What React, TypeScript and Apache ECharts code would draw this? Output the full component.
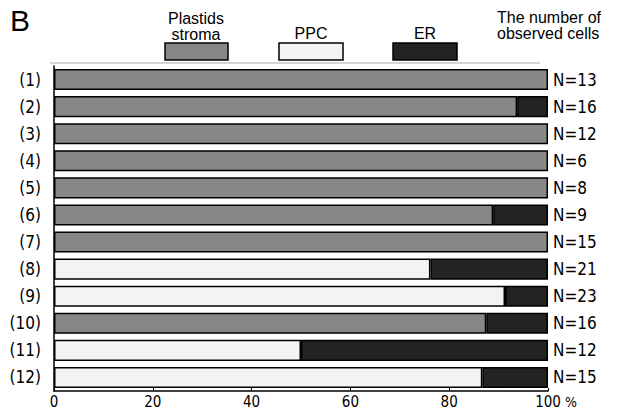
import React, { useEffect, useRef } from "react";
import * as echarts from "echarts";

const categories = ["(1)", "(2)", "(3)", "(4)", "(5)", "(6)", "(7)", "(8)", "(9)", "(10)", "(11)", "(12)"];
const cellCounts = ["N=13", "N=16", "N=12", "N=6", "N=8", "N=9", "N=15", "N=21", "N=23", "N=16", "N=12", "N=15"];
const plastidsStroma = [100, 93.75, 100, 100, 100, 88.9, 100, 0, 0, 87.5, 0, 0];
const ppc = [0, 0, 0, 0, 0, 0, 0, 76.2, 91.3, 0, 50, 86.7];
const er = [0, 6.25, 0, 0, 0, 11.1, 0, 23.8, 8.7, 12.5, 50, 13.3];
const xTicks = [0, 20, 40, 60, 80, 100];

const NARROW = '"Liberation Sans Narrow", "DejaVu Sans Condensed", "Liberation Sans", Arial, sans-serif';
const SANS = '"Liberation Sans", Arial, sans-serif';

const C_PLASTID = "#878787";
const C_PPC = "#f3f3f3";
const C_ER = "#232323";

export default function App() {
  const ref = useRef<HTMLDivElement>(null);
  useEffect(() => {
    if (!ref.current) return;
    const chart = echarts.init(ref.current, null, { renderer: "svg" });
    const toData = (arr: number[]) => arr.map((v) => (v === 0 ? "-" : v));
    const mkSeries = (name: string, arr: number[], color: string) => ({
      name,
      type: "bar",
      stack: "total",
      data: toData(arr),
      barWidth: "78%",
      itemStyle: { color, borderColor: "#000", borderWidth: 1.5 },
      silent: true,
    });
    chart.setOption({
      animation: false,
      backgroundColor: "#fff",
      grid: { left: 54, right: 81, top: 66, bottom: 17, containLabel: false },
      xAxis: {
        type: "value",
        min: 0,
        max: 100,
        interval: 20,
        axisLine: { show: true, lineStyle: { color: "#000", width: 1.5 } },
        axisTick: { show: true, inside: true, length: 3, lineStyle: { color: "#000" } },
        splitLine: { show: false },
        axisLabel: {
          margin: 3,
          color: "#000",
          fontFamily: NARROW,
          fontSize: 15,
          customValues: xTicks,
        },
      },
      yAxis: [
        {
          type: "category",
          data: categories,
          inverse: true,
          axisLine: { show: true, lineStyle: { color: "#000", width: 1.5 } },
          axisTick: { show: false },
          axisLabel: { margin: 13, color: "#000", fontFamily: NARROW, fontSize: 17 },
        },
        {
          type: "category",
          data: cellCounts,
          inverse: true,
          position: "right",
          axisLine: { show: false },
          axisTick: { show: false },
          axisLabel: { margin: 5, color: "#000", fontFamily: NARROW, fontSize: 17, align: "left" },
        },
      ],
      series: [
        mkSeries("Plastids stroma", plastidsStroma, C_PLASTID),
        mkSeries("PPC", ppc, C_PPC),
        mkSeries("ER", er, C_ER),
      ],
      graphic: [
        { type: "text", left: 10, top: 5, style: { text: "B", font: `30px ${SANS}`, fill: "#000" } },
        { type: "line", shape: { x1: 50, y1: 63, x2: 540, y2: 63 }, style: { stroke: "#aaa", lineWidth: 1 } },
        {
          type: "text",
          x: 196,
          y: 10,
          style: { text: "Plastids\nstroma", font: `16px ${SANS}`, fill: "#000", align: "center", lineHeight: 16 },
        },
        { type: "rect", shape: { x: 165, y: 43, width: 63, height: 17 }, style: { fill: C_PLASTID, stroke: "#000", lineWidth: 1.5 } },
        { type: "text", x: 311, y: 25, style: { text: "PPC", font: `16px ${SANS}`, fill: "#000", align: "center" } },
        { type: "rect", shape: { x: 279, y: 43, width: 64, height: 17 }, style: { fill: C_PPC, stroke: "#000", lineWidth: 1.5 } },
        { type: "text", x: 425, y: 25, style: { text: "ER", font: `16px ${SANS}`, fill: "#000", align: "center" } },
        { type: "rect", shape: { x: 393, y: 43, width: 64, height: 17 }, style: { fill: C_ER, stroke: "#000", lineWidth: 1.5 } },
        {
          type: "text",
          x: 497,
          y: 9,
          style: { text: "The number of\nobserved cells", font: `16px ${SANS}`, fill: "#000", lineHeight: 16 },
        },
        { type: "text", x: 565, y: 402, style: { text: "%", font: `14px ${NARROW}`, fill: "#000", verticalAlign: "middle" } },
      ],
    });
    return () => chart.dispose();
  }, []);
  return <div ref={ref} style={{ width: 629, height: 409, position: "absolute", left: 0, top: 0 }} />;
}
